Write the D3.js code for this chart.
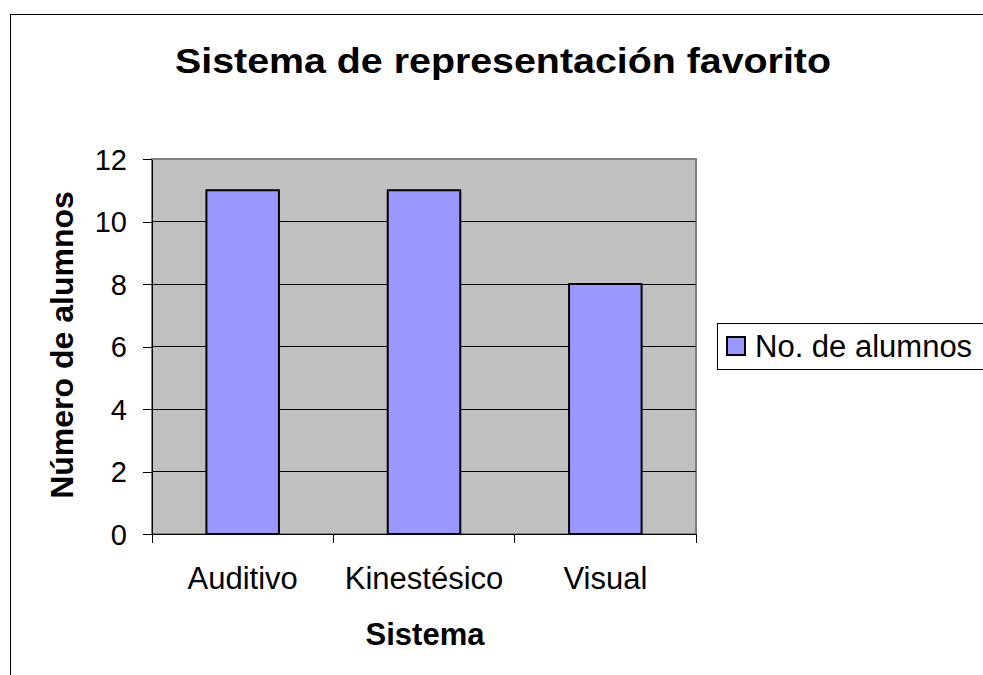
<!DOCTYPE html>
<html>
<meta charset="utf-8">
<style>
body { margin: 0; background: #fff; }
svg { display: block; font-family: "Liberation Sans", Arial, sans-serif; }
.axis path, .axis line { stroke: #000; stroke-width: 1; shape-rendering: crispEdges; }
.axis text { fill: #000; }
.grid line { stroke: #000; stroke-width: 1; shape-rendering: crispEdges; }
.bar { fill: #9999ff; stroke: #000; stroke-width: 2; }
</style>
<body>
<script src="https://d3js.org/d3.v7.min.js"></script>
<script>
var categories = ["Auditivo", "Kinestésico", "Visual"];
var values = [11, 11, 8];
var yTicks = [0, 2, 4, 6, 8, 10, 12];
var seriesName = "No. de alumnos";

var W = 983, H = 675;
var plot = {left: 152, top: 159, right: 696, bottom: 534};

var svg = d3.select("body").append("svg")
	.attr("width", W)
	.attr("height", H);

// chart area frame (runs off the right and bottom edges)
svg.append("rect")
	.attr("x", 10.5).attr("y", 14.5)
	.attr("width", 1000).attr("height", 700)
	.attr("fill", "#fff")
	.attr("stroke", "#000");

var x = d3.scaleBand()
	.domain(categories)
	.range([plot.left, plot.right])
	.paddingInner(0.6)
	.paddingOuter(0.3);

var band = d3.scaleBand().domain(categories).range([plot.left, plot.right]);

var y = d3.scaleLinear().domain([0, 12]).range([plot.bottom, plot.top]);

// plot background
svg.append("rect")
	.attr("x", plot.left).attr("y", plot.top)
	.attr("width", plot.right - plot.left)
	.attr("height", plot.bottom - plot.top)
	.attr("fill", "#c0c0c0")
	.attr("stroke", "#808080")
	.attr("stroke-width", 2);

// gridlines
svg.append("g").attr("class", "grid")
	.selectAll("line")
	.data(yTicks.filter(function(d) { return d > 0 && d < 12; }))
	.enter().append("line")
	.attr("x1", plot.left).attr("x2", plot.right)
	.attr("y1", function(d) { return y(d); })
	.attr("y2", function(d) { return y(d); });

// bars
svg.selectAll(".bar")
	.data(values)
	.enter().append("rect")
	.attr("class", "bar")
	.attr("x", function(d, i) { return x(categories[i]); })
	.attr("width", x.bandwidth())
	.attr("y", function(d) { return y(d); })
	.attr("height", function(d) { return y(0) - y(d); });

// y axis
var yAxis = svg.append("g").attr("class", "axis")
	.attr("transform", "translate(" + plot.left + ",0)")
	.call(d3.axisLeft(y).tickValues(yTicks).tickSize(9).tickPadding(16).tickSizeOuter(0));
yAxis.selectAll("text").style("font-size", "29px").attr("dy", "0.36em");

// x axis with ticks at the category boundaries
var xAxis = svg.append("g").attr("class", "axis")
	.attr("transform", "translate(0," + plot.bottom + ")");
xAxis.append("line")
	.attr("x1", plot.left).attr("x2", plot.right);
xAxis.selectAll(".tk")
	.data(categories.concat([null]))
	.enter().append("line")
	.attr("class", "tk")
	.attr("x1", function(d, i) { return i < categories.length ? band(d) : plot.right; })
	.attr("x2", function(d, i) { return i < categories.length ? band(d) : plot.right; })
	.attr("y1", 0).attr("y2", 9);
xAxis.selectAll(".lbl")
	.data(categories)
	.enter().append("text")
	.attr("class", "lbl")
	.attr("x", function(d) { return band(d) + band.bandwidth() / 2; })
	.attr("y", 55)
	.attr("text-anchor", "middle")
	.style("font-size", "31px")
	.text(function(d) { return d; });

// title
svg.append("text")
	.attr("x", 503).attr("y", 73)
	.attr("text-anchor", "middle")
	.attr("textLength", 656)
	.attr("lengthAdjust", "spacingAndGlyphs")
	.style("font-size", "35px")
	.style("font-weight", "bold")
	.text("Sistema de representación favorito");

// axis titles
svg.append("text")
	.attr("x", 425).attr("y", 645)
	.attr("text-anchor", "middle")
	.style("font-size", "31px")
	.style("font-weight", "bold")
	.text("Sistema");

svg.append("text")
	.attr("transform", "translate(73,345) rotate(-90)")
	.attr("text-anchor", "middle")
	.style("font-size", "32px")
	.style("font-weight", "bold")
	.text("Número de alumnos");

// legend
var legend = svg.append("g");
legend.append("rect")
	.attr("x", 717.5).attr("y", 323.5)
	.attr("width", 300).attr("height", 46)
	.attr("fill", "#fff")
	.attr("stroke", "#000");
legend.append("rect")
	.attr("x", 727).attr("y", 337)
	.attr("width", 18).attr("height", 18)
	.attr("fill", "#9999ff")
	.attr("stroke", "#000")
	.attr("stroke-width", 2);
legend.append("text")
	.attr("x", 755).attr("y", 357)
	.style("font-size", "31px")
	.text(seriesName);
</script>
</body>
</html>
